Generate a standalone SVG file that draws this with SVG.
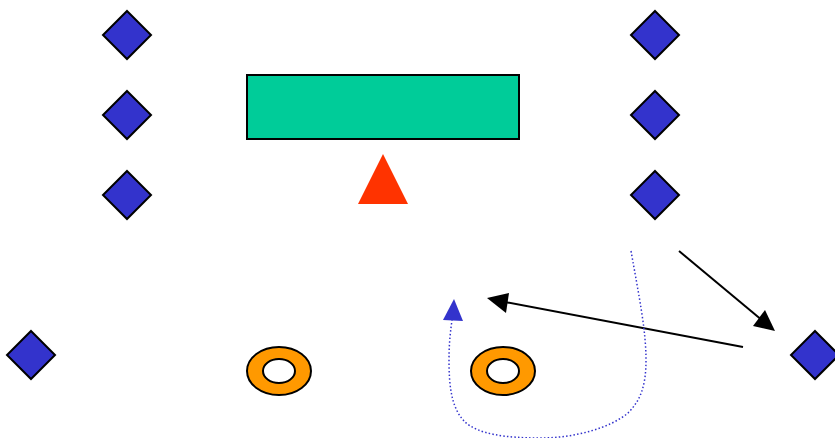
<svg xmlns="http://www.w3.org/2000/svg" width="835" height="438" viewBox="0 0 835 438">
<style>
.d{fill:#3333cc;stroke:#000;stroke-width:2;stroke-linejoin:miter}
.t{fill:#ff9900;stroke:#000;stroke-width:2}
.h{fill:#fff;stroke:#000;stroke-width:2}
.c{fill:none;stroke:#000;stroke-width:2}
</style>
<defs><polygon id="dm" class="d" points="0,-24 24,0 0,24 -24,0"/></defs>
<rect width="835" height="438" fill="#fff"/>
<g id="d1"><use href="#dm" x="127" y="35"/></g>
<g id="d2"><use href="#dm" x="127" y="115"/></g>
<g id="d3"><use href="#dm" x="127" y="195"/></g>
<g id="d4"><use href="#dm" x="655" y="35"/></g>
<g id="d5"><use href="#dm" x="655" y="115"/></g>
<g id="d6"><use href="#dm" x="655" y="195"/></g>
<g id="d7"><use href="#dm" x="31" y="355"/></g>
<g id="d8"><use href="#dm" x="815" y="355"/></g>
<g id="bar"><rect x="247" y="75" width="272" height="64" fill="#00cc99" stroke="#000" stroke-width="2"/></g>
<g id="tri"><polygon points="383,154 408,204 358,204" fill="#ff3300"/></g>
<g id="r1"><ellipse class="t" cx="279" cy="371" rx="32" ry="24"/><ellipse class="h" cx="279" cy="371" rx="16" ry="12"/></g>
<g id="r2"><ellipse class="t" cx="503" cy="371" rx="32" ry="24"/><ellipse class="h" cx="503" cy="371" rx="16" ry="12"/></g>
<g id="connectors">
<line class="c" x1="679" y1="251" x2="763" y2="321"/>
<polygon points="775,331 753,326 765,310" fill="#000"/>
<line class="c" x1="743" y1="347" x2="505" y2="302"/>
<polygon points="487,298 509,293 506,313" fill="#000"/>
<path d="M631,251C639,296 646,330 646,360C646,385 641,400 628,413C610,428 575,438 540,438C505,438 478,434 465,422C451,408 449,385 449,360C449,345 450,335 452,320" fill="none" stroke="#3333cc" stroke-width="1.5" stroke-dasharray="1.5 2.2"/>
<polygon points="454,299 463,321 443,320" fill="#3333cc"/>
</g>
</svg>
